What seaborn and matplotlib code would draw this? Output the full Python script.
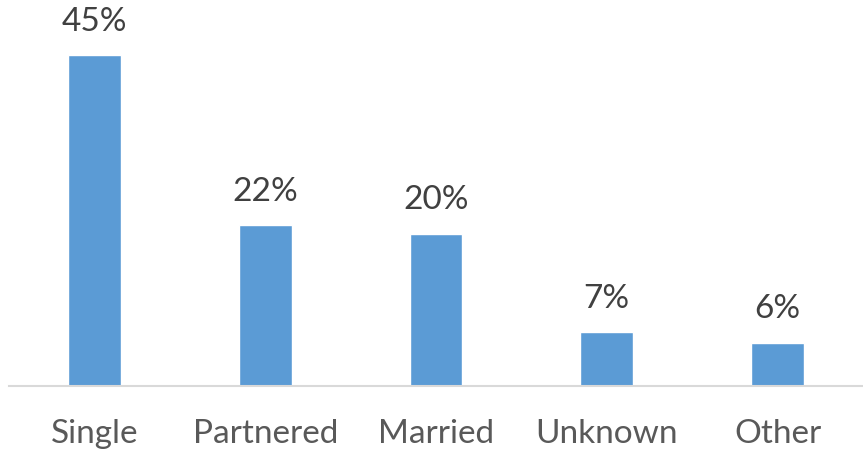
import pandas as pd
import matplotlib.pyplot as plt
import seaborn as sns

# chart data (bar heights, labels as printed)
categories = ["Single", "Partnered", "Married", "Unknown", "Other"]
shares = [44.5, 21.6, 20.5, 7.2, 5.8]
share_labels = ["45%", "22%", "20%", "7%", "6%"]

df = pd.DataFrame({"status": categories, "share": shares})

sns.set_theme(style="white")
plt.rcParams["font.family"] = ["Lato", "DejaVu Sans"]

fig = plt.figure(figsize=(8.63, 4.55), dpi=100)
ax = fig.add_axes([9 / 863, 69 / 455, 854 / 863, 368 / 455])

sns.barplot(data=df, x="status", y="share", color="#5B9BD5", width=0.31,
            saturation=1, ax=ax)

for i, (v, lab) in enumerate(zip(shares, share_labels)):
    ax.text(i, v + 2.5, lab, ha="center", va="bottom",
            fontsize=24, color="#404040")

ax.set_ylim(0, 49.5)
ax.set_xlim(-0.5, 4.5)
ax.set_xlabel("")
ax.set_ylabel("")
ax.set_yticks([])
ax.tick_params(axis="x", length=0, pad=24, labelsize=24, labelcolor="#595959")
for side in ["top", "left", "right"]:
    ax.spines[side].set_visible(False)
ax.spines["bottom"].set_color("#D9D9D9")
ax.spines["bottom"].set_linewidth(1.5)

fig.savefig("out.png", dpi=100)
